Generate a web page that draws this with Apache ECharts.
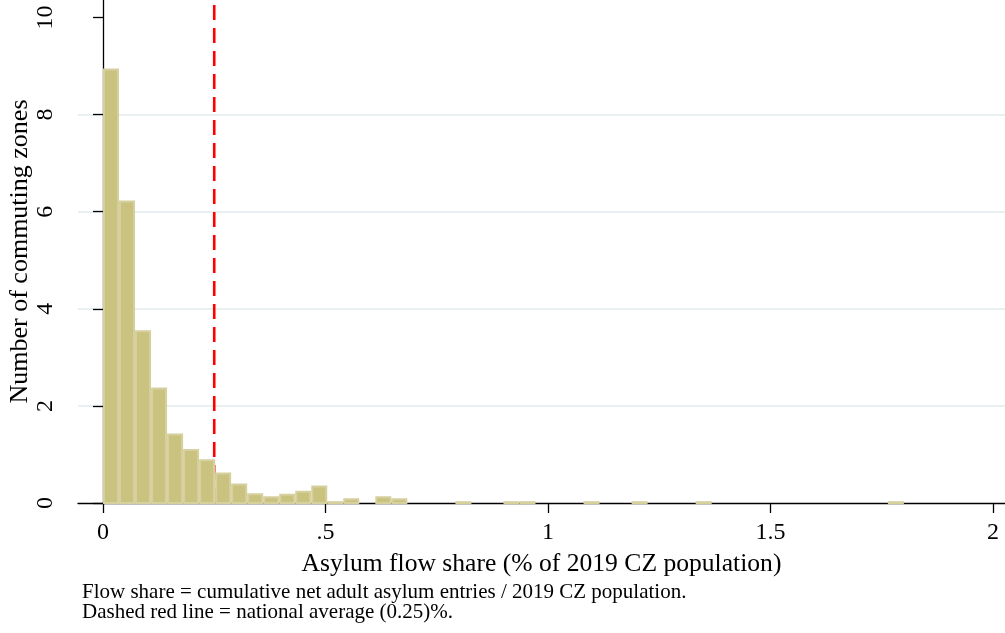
<!DOCTYPE html>
<html>
<head>
<meta charset="utf-8">
<script src="https://cdn.jsdelivr.net/npm/echarts@6/dist/echarts.min.js"></script>
<style>
html,body{margin:0;padding:0;background:#fff;}
#chart{width:1005px;height:633px;}
</style>
</head>
<body>
<div id="chart"></div>
<script>
// ---- Data ----
const binStart = 0;
const binWidth = 0.036;
const binHeights = [
  8.95, 6.23, 3.56, 2.38, 1.43, 1.11, 0.90, 0.63, 0.40, 0.20,
  0.14, 0.19, 0.25, 0.36, 0.037, 0.10, 0, 0.14, 0.10, 0,
  0, 0, 0.037, 0, 0, 0.037, 0.037, 0, 0, 0,
  0.037, 0, 0, 0.037, 0, 0, 0, 0.037, 0, 0,
  0, 0, 0, 0, 0, 0, 0, 0, 0, 0.037
];
const nationalAverage = 0.25;
const xTicks = [0, 0.5, 1, 1.5, 2];
const xTickLabels = ['0', '.5', '1', '1.5', '2'];
const yTicks = [0, 2, 4, 6, 8, 10];
const xTitle = 'Asylum flow share (% of 2019 CZ population)';
const yTitle = 'Number of commuting zones';
const noteLines = [
  'Flow share = cumulative net adult asylum entries / 2019 CZ population.',
  'Dashed red line = national average (0.25)%.'
];

// ---- Build ----
const histData = binHeights.map((h, i) => [binStart + i * binWidth, binStart + (i + 1) * binWidth, h]);
const FONT = '"Liberation Serif", "DejaVu Serif", serif';
const X_MIN = -0.0562, X_MAX = 2.0272, Y_MAX = 10.36;

const chart = echarts.init(document.getElementById('chart'), null, {renderer: 'canvas'});
chart.setOption({
  animation: false,
  backgroundColor: '#ffffff',
  title: {
    text: noteLines.join('\n'),
    left: 82, top: 582, padding: 0,
    textStyle: {fontFamily: FONT, fontSize: 21, fontWeight: 'normal', color: '#000', lineHeight: 20}
  },
  grid: {left: 78, right: 0, top: 0, bottom: 130, containLabel: false, outerBoundsMode: 'none'},
  xAxis: {
    type: 'value', min: X_MIN, max: X_MAX,
    name: xTitle, nameLocation: 'middle', nameGap: 48, nameMoveOverlap: false,
    nameTextStyle: {fontFamily: FONT, fontSize: 25.6, color: '#000'},
    axisLine: {show: true, onZero: false, lineStyle: {color: '#000', width: 1.3}},
    axisTick: {show: true, length: 10, customValues: xTicks, lineStyle: {color: '#000', width: 1.3}},
    axisLabel: {
      customValues: xTicks, margin: 18,
      fontFamily: FONT, fontSize: 24, color: '#000',
      formatter: v => { const i = xTicks.indexOf(v); return i >= 0 ? xTickLabels[i] : ''; }
    },
    splitLine: {show: false}
  },
  yAxis: {
    type: 'value', min: 0, max: Y_MAX,
    name: yTitle, nameLocation: 'middle', nameGap: 45, nameMoveOverlap: false,
    nameTextStyle: {fontFamily: FONT, fontSize: 26, color: '#000'},
    axisLine: {show: true, lineStyle: {color: '#000', width: 1.3}},
    axisTick: {show: true, length: 10, customValues: yTicks, lineStyle: {color: '#000', width: 1.3}},
    axisLabel: {
      customValues: yTicks, rotate: 90, margin: 20,
      fontFamily: FONT, fontSize: 24, color: '#000',
      formatter: v => (yTicks.indexOf(v) >= 0 ? String(v) : '')
    },
    splitLine: {show: true, showMinLine: false, showMaxLine: false, lineStyle: {color: '#E8F0F2', width: 2}}
  },
  series: [
    {
      type: 'line', z: 1, silent: true, symbol: 'none',
      data: [[nationalAverage, 0], [nationalAverage, Y_MAX]],
      lineStyle: {color: '#FF0000', width: 2.6, type: [15, 8]}
    },
    {
      type: 'custom', z: 2, silent: true,
      data: histData,
      encode: {x: [0, 1], y: 2},
      renderItem: (params, api) => {
        const h = api.value(2);
        if (!h) return null;
        const p0 = api.coord([api.value(0), h]);
        const p1 = api.coord([api.value(1), 0]);
        return {
          type: 'rect',
          shape: {x: p0[0] + 1, y: p0[1] + 1, width: p1[0] - p0[0] - 2, height: Math.max(p1[1] - p0[1] - 1, 1)},
          style: {fill: '#CAC27F', stroke: '#D6D09F', lineWidth: 2}
        };
      }
    }
  ]
});
</script>
</body>
</html>
